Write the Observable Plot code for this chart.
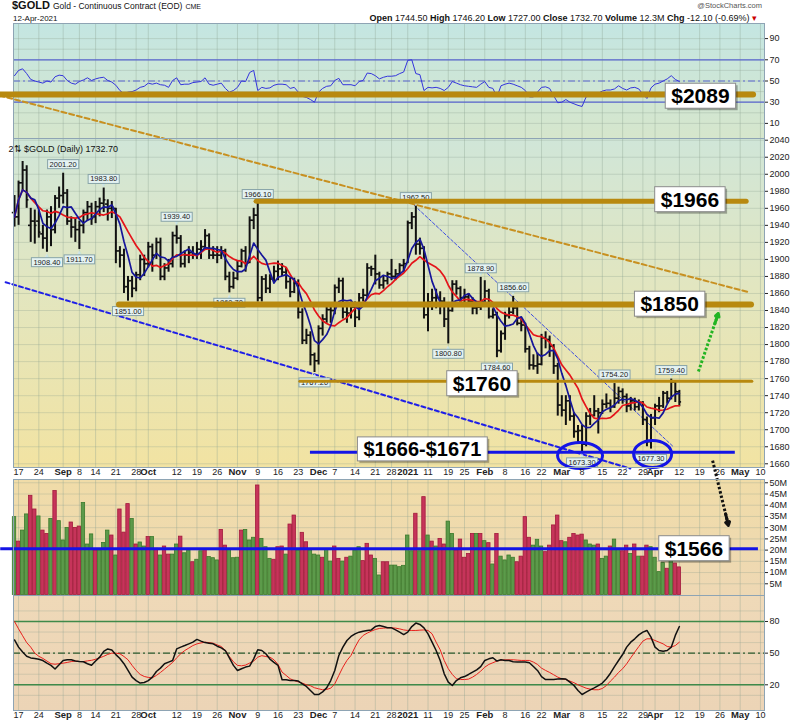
<!DOCTYPE html>
<html><head><meta charset="utf-8">
<script src="https://cdn.jsdelivr.net/npm/d3@7"></script>
<script src="https://cdn.jsdelivr.net/npm/@observablehq/plot@0.6"></script>
<style>
body{margin:0;background:#fff;font-family:Arial,"Liberation Sans",sans-serif;}
#wrap{position:relative;width:800px;height:724px;overflow:hidden;background:#fff;}
.hd{position:absolute;white-space:nowrap;line-height:1;color:#111;}
</style></head><body><div id="wrap">
<div class="hd" style="left:12px;top:0px;font-size:11px;"><b>$GOLD</b> <span style="font-size:8.5px">Gold - Continuous Contract (EOD)</span> <span style="font-size:7px">CME</span></div>
<div class="hd" style="left:13px;top:15px;font-size:8px;">12-Apr-2021</div>
<div class="hd" style="right:43px;top:13.5px;font-size:9px;"><b>Open</b> 1744.50 <b>High</b> 1746.20 <b>Low</b> 1727.00 <b>Close</b> 1732.70 <b>Volume</b> 12.3M <b>Chg</b> -12.10 (-0.69%) <span style="color:#c00">&#9662;</span></div>
<div class="hd" style="right:38px;top:2px;font-size:7.5px;color:#555;">@StockCharts.com</div>
</div>
<script>
// ---------- DATA (first bar = 14-Aug-2020, index -1; trading-day index) ----------
const FIRST = -1;
const open = [1955,1950,1990,2005,1940,1945,1945,1930,1925,1950,
1935,1972,1975,1978,1945,1938,1935,1940,1955,1962,
1950,1962,1966,1965,1960,1960,1910,1905,1868,1875,
1866,1882,1900,1895,1915,1905,1920,1880,1890,1895,
1928,1925,1895,1905,1908,1906,1912,1915,1928,1905,
1905,1905,1910,1880,1868,1878,1892,1910,1896,1946,
1952,1855,1877,1866,1877,1886,1889,1885,1874,1862,
1872,1838,1805,1811,1788,1781,1819,1830,1841,1840,
1867,1875,1838,1837,1844,1832,1855,1858,1890,1889,
1883,1870,1875,1883,1880,1883,1893,1895,1943,1950,
1918,1913,1835,1850,1855,1855,1851,1830,1840,1871,
1866,1855,1856,1851,1843,1844,1850,1863,1833,1835,
1793,1813,1834,1838,1843,1825,1823,1795,1776,1775,
1777,1808,1806,1798,1775,1729,1723,1734,1716,1698,
1699,1683,1716,1717,1722,1720,1730,1731,1727,1737,
1745,1739,1728,1734,1727,1732,1712,1686,1714,1728,
1728,1743,1737,1756,1744.5];
const high = [1975,1992,2015,2010,1960,1958,1958,1940,1958,1962,
1975,1985,2001.2,1982,1950,1948,1945,1958,1968,1966,
1968,1972,1983.8,1970,1968,1960,1915,1912,1880,1880,
1885,1905,1905,1920,1918,1925,1925,1895,1900,1932,
1939.4,1928,1910,1915,1915,1920,1922,1935,1930,1915,
1915,1915,1912,1885,1885,1898,1912,1915,1950,1960,
1966.1,1880,1882,1882,1892,1898,1895,1890,1878,1878,
1876,1842,1818,1815,1790,1822,1835,1845,1848,1870,
1878,1878,1845,1850,1850,1860,1865,1895,1892,1905,
1885,1880,1885,1900,1888,1895,1900,1945,1955,1962.5,
1925,1915,1860,1865,1865,1862,1855,1845,1875,1875,
1868,1865,1860,1855,1850,1878.9,1875,1865,1842,1838,
1816,1838,1845,1856.6,1848,1830,1825,1798,1788,1790,
1812,1815,1810,1800,1778,1740,1740,1740,1720,1705,
1705,1720,1725,1740,1725,1735,1742,1735,1754.2,1750,
1748,1742,1738,1737,1735,1733,1715,1718,1730,1738,
1745,1745,1759.4,1756,1746.2];
const low = [1938,1940,1980,1960,1920,1918,1925,1912,1908.4,1915,
1930,1960,1965,1940,1925,1920,1911.7,1930,1945,1940,
1942,1950,1955,1945,1948,1895,1890,1860,1851,1855,
1862,1875,1880,1890,1885,1900,1875,1875,1885,1890,
1918,1890,1890,1895,1900,1900,1900,1912,1900,1900,
1895,1900,1875,1860.7,1865,1875,1890,1885,1895,1935,
1850,1850,1860,1860,1872,1875,1880,1865,1855,1860,
1830,1800,1800,1775,1767.2,1776,1810,1825,1825,1835,
1860,1830,1825,1830,1820,1828,1850,1855,1880,1870,
1865,1865,1870,1875,1875,1880,1885,1895,1935,1905,
1905,1830,1815,1840,1842,1835,1820,1800.8,1838,1858,
1845,1848,1845,1835,1835,1840,1845,1830,1830,1784.6,
1790,1805,1830,1835,1822,1815,1790,1770,1770,1765,
1775,1795,1785,1765,1716,1715,1705,1710,1690,1685,
1673.3,1680,1705,1715,1695,1718,1725,1720,1725,1730,
1730,1720,1722,1722,1722,1705,1680,1677.3,1705,1720,
1725,1730,1735,1732,1727];
const close = [1950,1990,2005,1970,1945,1940,1932,1925,1950,1935,
1972,1975,1978,1945,1938,1935,1940,1955,1962,1948,
1962,1966,1970,1960,1962,1910,1905,1868,1875,1866,
1882,1900,1895,1915,1905,1920,1880,1890,1895,1928,
1925,1895,1905,1908,1906,1912,1915,1928,1905,1905,
1905,1910,1880,1868,1878,1892,1910,1896,1946,1952,
1855,1877,1866,1877,1886,1889,1885,1874,1862,1872,
1838,1805,1811,1788,1781,1819,1830,1841,1840,1867,
1875,1838,1837,1844,1832,1855,1858,1890,1889,1883,
1870,1875,1883,1880,1883,1893,1895,1943,1950,1918,
1913,1835,1850,1855,1855,1851,1830,1840,1871,1866,
1855,1856,1851,1843,1844,1850,1863,1833,1835,1793,
1813,1834,1838,1843,1825,1823,1795,1776,1775,1777,
1808,1806,1798,1775,1729,1723,1734,1716,1698,1699,
1683,1716,1717,1722,1720,1730,1731,1727,1737,1745,
1739,1728,1734,1727,1732,1712,1686,1714,1728,1728,
1743,1737,1756,1745,1732.7];
// volume in millions and up(1)/down(0) colour flag
const volume = [34.7,23.8,28.7,35.9,44.2,38.1,35.0,28.7,27.2,33.9,
46.3,32.9,24.3,29.9,32.3,29.9,30.5,41.0,22.5,27.0,
19.8,19.8,23.2,28.7,26.5,17.6,38.1,27.8,40.5,33.9,
22.5,23.4,21.6,25.8,25.8,20.6,17.6,21.6,18.0,18.0,
22.5,26.0,18.6,19.8,14.6,15.7,19.5,20.3,16.9,16.4,
15.4,29.0,22.0,20.3,16.4,16.6,28.7,29.0,24.3,25.5,
48.8,25.0,21.3,16.1,15.7,21.3,21.6,18.0,31.4,35.4,
19.8,27.7,23.5,19.8,18.0,17.6,16.6,20.1,14.9,21.6,
16.1,14.9,16.6,17.1,19.8,21.3,15.1,22.8,17.6,16.1,
8.7,14.6,14.6,13.1,13.1,12.4,13.0,26.5,19.5,36.2,
19.5,43.6,26.5,23.8,21.6,25.0,22.5,32.7,27.2,19.8,
24.7,16.6,18.3,27.2,27.2,27.2,24.0,23.1,13.6,27.2,
17.1,15.4,17.6,16.6,14.6,17.1,34.7,25.5,22.0,24.6,
21.6,19.1,22.0,31.0,35.4,24.0,23.5,25.5,27.2,26.5,
26.9,24.3,22.5,22.0,22.5,16.1,17.1,21.6,24.7,20.6,
19.5,22.0,18.3,22.5,17.1,17.1,22.0,21.3,16.6,10.2,
14.2,11.7,15.4,14.0,12.3];
const volUp = [1,0,1,1,0,0,1,0,0,1,
0,1,1,1,0,0,0,1,1,1,
0,1,1,1,0,1,0,0,0,1,
0,1,1,0,1,0,1,0,0,1,
1,0,1,1,0,1,1,0,1,1,
1,0,0,1,1,1,0,1,1,1,
0,1,1,1,0,0,0,1,0,0,
1,0,0,1,1,1,0,1,1,0,
0,1,0,1,1,1,0,0,0,1,
1,0,0,1,1,1,1,1,1,0,
1,0,1,0,1,0,0,1,1,0,
0,0,0,0,1,0,1,0,1,0,
1,1,1,1,0,0,0,0,1,1,
1,0,0,0,0,0,1,0,0,0,
0,1,1,1,0,1,1,0,1,1,
0,0,1,0,1,0,0,1,1,1,
1,0,1,0,0];
const rsi = [55,60,61.5,57,51.5,50,49,48,50,49,
54,55.5,55,50.5,48,47,49.5,51,53,50.5,
52,53,53.5,50.5,49,46,41,38,39.5,40,
41.5,44,45,48,47,48,46.5,46,44,50.5,
53,46.5,47,47,48.5,49,49.5,53,47,46,
47,48,43,39.5,41,44,50,49.5,58,60,
41,44,43,43.5,46,47,47,46.5,43,44,
39.5,35.5,34.5,32.5,30,39.5,43,45,45.5,50.5,
52.5,46.5,46.5,46.5,45.5,49.5,50.5,57.5,57,55,
52,53.5,54.5,54.5,55,57,58.5,69.5,70,57,
56,41,44,43.5,44,43,41,44,49.5,48,
46.5,45.5,45,44.5,44,47,49.5,44,43,35,
45.5,47,48,47,45.5,44,41,35,35,39.5,
44,44.5,43,36,29.5,30,32.5,30,28.5,27,
26,35,37.5,37.5,38.5,40.5,41.5,41.5,42.5,45.5,
43,41.5,43.5,44,42.5,37.5,33.5,43.5,47,48,
50,52,55,51.5,49.5];
const stochK = [62.5,55.7,51,47,45.5,45,44.2,43,40.5,38.4,
35,39,43,43.7,43.7,42.5,42,41.8,40,38.5,
42.5,46.2,51.6,54,53,48.6,45,40,33.6,27.3,
24,21.6,22.2,24,27.3,32.6,35.8,39.9,41.5,43,
54,55.7,57.2,58.8,60.4,63,61.4,60,59.4,58.8,
56.6,55,52.5,45.6,38.4,33.6,35.2,36.8,37.7,44.6,
53.2,52.5,49.4,44.4,41.2,38.4,24.8,24.8,24,24,
23.5,20.9,18.4,14.6,10.8,10.8,13.3,17.1,24,33.6,
47.8,55.7,62,65.8,68.3,69.9,70.8,71.5,72,75.2,
76.2,75.2,74,74,72,69.9,67.6,69.9,75.2,78.5,
77.2,74,68.3,60.4,52.5,43,30.4,22.5,19.3,24,
26.6,27.8,29.8,32,34.2,37.3,43,44.6,45.6,42.5,
43.7,43,43,41.8,41.5,41.5,41.5,40.9,37.3,33.6,
27.8,25,25,25,25.4,25.7,25.4,22.5,19.3,14.6,
10.8,13,15.2,17.1,19.3,21.6,25.7,31,37.3,43,
48.7,55.7,60.4,63.6,67.3,69.9,71.5,65.2,55.7,52.5,
51.9,52.5,55.7,66.8,75.2];
const stochD = [80,73,66.5,60,55.7,50,47,45,42.5,40,
39.5,40,40.5,41.2,42,42.5,42,42,42.7,43.2,
44.2,45.6,47,48.8,50,50,49.4,46.8,43.7,38.4,
33.6,29.8,27.9,27,26.6,28.9,31.7,34.8,38,41.2,
45.6,49.4,52.5,54.8,57.2,58.8,59.7,60.4,60,59.4,
57.8,56.3,52.5,46.8,41.8,38.4,38,38.7,40.6,42.5,
46.2,47.6,46.8,46.2,43.7,39.3,32,28.9,25.7,24,
22.8,21.6,20,19.1,17.2,16.2,15.3,15.6,16.8,20.9,
28.9,36.7,43.1,47.8,55.7,62.6,66.8,69,70.8,72.4,
73.4,73.7,74,74,73.7,73,72,71.5,71.5,71.5,
71.8,72,71.5,68.3,60.4,53.2,43,35.2,29.8,25.7,
25,25,25.4,27.3,29.8,33,36.7,39.3,40.9,42.5,
43.4,43.7,43.7,43.7,43.4,43.1,43.1,43.1,41.5,39.3,
35.8,33.6,31.7,29.5,27.3,25.7,25,23.5,22,20,
18.4,16.8,15.9,15.3,15.3,16.5,19.3,23.5,27.3,31.7,
35.2,39.9,45.6,51,56.3,61.4,63.6,63.6,62,60.4,
58.8,56.3,55.7,57.2,60.4];

// date axis
const tickIdx  = [0,5,11,15,19,24,29,32,39,44,49,54,59,64,69,74,78,83,88,92,96,101,106,110,115,120,125,129,134,139,144,149,154,157,163,168,173,178,183];
const tickText = ["17","24","Sep","8","14","21","28","Oct","12","19","26","Nov","9","16","23","Dec","7","14","21","28","2021","11","19","25","Feb","8","16","22","Mar","8","15","22","29","Apr","12","19","26","May","10"];
const boldTicks = ["Sep","Oct","Nov","Dec","2021","Feb","Mar","Apr","May"];
const priceTicks = [1660,1680,1700,1720,1740,1760,1780,1800,1820,1840,1860,1880,1900,1920,1940,1960,1980,2000,2020,2040];
const rsiTicks = [10,30,50,70,90];
const rsiGrid = [10,20,30,40,50,60,70,80,90];
const volTicks = [5,10,15,20,25,30,35,40,45,50];
const stochTicks = [20,50,80];
const stochGrid = [10,20,30,40,50,60,70,80,90];

// value labels on swing highs/lows
const swingIdx = [11,7,15,21,27,39,52,59,73,98,106,114,118,122,139,147,156,161];
const swingSide = ["h","l","l","h","l","h","l","h","l","h","l","h","l","h","l","h","l","h"];

// annotations (levels drawn by the analyst)
const goldLevel = [2093.7, 1968.4, 1847.1, 1757.0];
const goldFrom  = [-4.4, 58.7, 24.9, 69.5];
const goldTo    = [181.3, 179.6, 180.8, 181.0];
const goldWidth = [6, 5, 6, 3];
const goldText  = ["$2089", "$1966", "$1850", "$1760"];
const goldTextX = [168.2, 165.6, 160.6, 114.3];
const goldTextY = [2091.3, 1969.8, 1847.1, 1753.7];
const supportLevel = 1673.6, supportFrom = 72, supportTo = 176.8;
const supportText = "$1666-$1671", supportTextX = 99.6, supportTextY = 1676.8;
const orangeX = [-4.7, 180.3], orangeY = [2092.6, 1861.3];
const lowerX = [-3.2, 150.9], lowerY = [1873.2, 1654.4];
const thinX = [96.7, 161.6], thinY = [1967.5, 1679.7];
const ellipseX = [138.5, 156.4], ellipseY = [1669.7, 1671.5], ellipseRx = [22.5, 19], ellipseRy = [13, 13.5];
const greenArrow = {x1: 167.7, y1: 1768.4, x2: 172.6, y2: 1836.5};
const blackArrow = {x1: 171.2, y1: 59.9, x2: 175.1, y2: 31.0};
const volLevel = 20.6, volFrom = -4.4, volTo = 182.5, volText = "$1566", volTextX = 166.6, volTextY = 20.5;

// ---------- TABLES ----------
const bars = close.map((c, k) => ({i: FIRST + k, o: open[k], h: high[k], l: low[k], c, v: volume[k], up: volUp[k], r: rsi[k], k: stochK[k], d: stochD[k]}));
const ticks = tickIdx.map((i, k) => ({i, t: tickText[k], b: boldTicks.includes(tickText[k])}));
const swings = swingIdx.map((i, k) => {const b = bars[i - FIRST]; const hi = swingSide[k] === "h"; return {i, y: hi ? b.h : b.l, hi, t: (hi ? b.h : b.l).toFixed(2)};});
const levels = goldLevel.map((p, k) => ({p, a: goldFrom[k], b: goldTo[k], w: goldWidth[k], t: goldText[k], tx: goldTextX[k], ty: goldTextY[k]}));
const pts = (xs, ys) => xs.map((x, k) => ({x, y: ys[k]}));

const FONT = "Arial, 'Liberation Sans', sans-serif";
const GOLD = "#b8890f";
const BLUE = "#1414e6";
const GRID = "#8aa090";
const xDomain = [-1.25, 184];
const common = {width: 800, marginLeft: 13, marginRight: 36, x: {domain: xDomain, axis: null},
  style: {overflow: "visible", background: "none", fontFamily: FONT, fontSize: "9px", color: "#222"}};
const plain = d => String(d);

function ellipseSymbol(rx, ry) {
  const c = 0.5523;
  return {draw(ctx) {
    ctx.moveTo(rx, 0);
    ctx.bezierCurveTo(rx, ry*c, rx*c, ry, 0, ry);
    ctx.bezierCurveTo(-rx*c, ry, -rx, ry*c, -rx, 0);
    ctx.bezierCurveTo(-rx, -ry*c, -rx*c, -ry, 0, -ry);
    ctx.bezierCurveTo(rx*c, -ry, rx, -ry*c, rx, 0);
    ctx.closePath();
  }};
}
const xLabels = (dy) => [
  Plot.text(ticks.filter(d => !d.b), {x: "i", text: "t", frameAnchor: "bottom", dy, fontSize: 9, fill: "#222"}),
  Plot.text(ticks.filter(d => d.b), {x: "i", text: "t", frameAnchor: "bottom", dy, fontSize: 9.5, fontWeight: "bold", fill: "#222"})
];
const bg = () => Plot.frame({fill: "#ededed"});
const border = () => Plot.frame({stroke: "#8ea4b4", strokeWidth: 1});
const vgrid = () => Plot.ruleX(tickIdx, {stroke: GRID, strokeOpacity: 0.35});

// ---------- RSI PANEL ----------
const rsiPlot = Plot.plot({...common, height: 115, marginTop: 0, marginBottom: 0,
  y: {domain: [-4.25, 104.25], axis: "right", ticks: rsiTicks, tickFormat: plain, tickSize: 3, tickPadding: 2, label: null},
  marks: [
    bg(), vgrid(),
    Plot.ruleY(rsiGrid, {stroke: GRID, strokeOpacity: 0.3}),
    Plot.ruleY([70, 30], {stroke: "#5a66d0", strokeWidth: 1.2}),
    Plot.ruleY([50], {stroke: "#5a66d0", strokeWidth: 1.2, strokeDasharray: "7,3,2,3"}),
    Plot.lineY(bars, {x: "i", y: "r", stroke: "#3434dc", strokeWidth: 1}),
    border()
  ]});

// ---------- PRICE PANEL ----------
const pricePlot = Plot.plot({...common, height: 341, marginTop: 0, marginBottom: 12,
  y: {domain: [1655.65, 2042], axis: "right", ticks: priceTicks, tickFormat: plain, tickSize: 3, tickPadding: 2, label: null},
  marks: [
    bg(), vgrid(),
    Plot.ruleY(priceTicks, {stroke: GRID, strokeOpacity: 0.3}),
    Plot.line(pts(lowerX, lowerY), {x: "x", y: "y", stroke: "#1e1ee8", strokeWidth: 2, strokeDasharray: "4,3"}),
    Plot.line(pts(thinX, thinY), {x: "x", y: "y", stroke: "#3c4ce0", strokeWidth: 1, strokeDasharray: "3,2"}),
    Plot.line(pts(orangeX, orangeY), {x: "x", y: "y", stroke: "#c89020", strokeWidth: 2, strokeDasharray: "5,3"}),
    Plot.ruleX(bars, {x: "i", y1: "l", y2: "h", stroke: "#111", strokeWidth: 2}),
    Plot.ruleY(bars, {y: "o", x1: d => d.i - 0.55, x2: "i", stroke: "#111", strokeWidth: 1.6}),
    Plot.ruleY(bars, {y: "c", x1: "i", x2: d => d.i + 0.55, stroke: "#111", strokeWidth: 1.6}),
    Plot.lineY(bars, Plot.windowY({k: 10, anchor: "end"}, {x: "i", y: "c", stroke: "#e4141a", strokeWidth: 1.7})),
    Plot.lineY(bars, Plot.windowY({k: 5, anchor: "end"}, {x: "i", y: "c", stroke: "#16169a", strokeWidth: 1.7})),
    Plot.text(swings.filter(d => d.hi), {x: "i", y: "y", text: () => "\u25BC", dy: -3, fontSize: 6, fill: "#c9e4e6"}),
    Plot.text(swings.filter(d => !d.hi), {x: "i", y: "y", text: () => "\u25B2", dy: 3, fontSize: 6, fill: "#c9e4e6"}),
    Plot.text(swings.filter(d => d.hi), {x: "i", y: "y", text: "t", dy: -9, fontSize: 7.5, fill: "#222"}),
    Plot.text(swings.filter(d => !d.hi), {x: "i", y: "y", text: "t", dy: 10, fontSize: 7.5, fill: "#222"}),
    Plot.text(["2\u21C5 $GOLD (Daily) 1732.70"], {frameAnchor: "top-left", dx: -5, dy: 7, textAnchor: "start", fontSize: 9, fill: "#111"}),
    Plot.ruleY(levels, {y: "p", x1: "a", x2: "b", stroke: GOLD, strokeWidth: "w", strokeLinecap: "round"}),
    Plot.ruleY([supportLevel], {x1: supportFrom, x2: supportTo, stroke: BLUE, strokeWidth: 3}),
    Plot.dot([0], {x: ellipseX[0], y: ellipseY[0], symbol: ellipseSymbol(ellipseRx[0], ellipseRy[0]), stroke: BLUE, strokeWidth: 3, fill: "none"}),
    Plot.dot([0], {x: ellipseX[1], y: ellipseY[1], symbol: ellipseSymbol(ellipseRx[1], ellipseRy[1]), stroke: BLUE, strokeWidth: 3, fill: "none"}),
    Plot.link([greenArrow], {x1: "x1", y1: "y1", x2: "x2", y2: "y2", stroke: "#22b422", strokeWidth: 3, strokeDasharray: "2.5,2"}),
    Plot.arrow([greenArrow], {x1: d => d.x2 - (d.x2 - d.x1) * 0.18, y1: d => d.y2 - (d.y2 - d.y1) * 0.18, x2: "x2", y2: "y2", stroke: "#22b422", strokeWidth: 3, headLength: 9}),
    Plot.text(levels, {x: "tx", y: "ty", text: "t", fontSize: 21, fontWeight: "bold", fill: "#000"}),
    Plot.text([supportText], {x: supportTextX, y: supportTextY, text: d => d, fontSize: 20, fontWeight: "bold", fill: "#000"}),
    border(),
    ...xLabels(7)
  ]});

// ---------- VOLUME PANEL ----------
const volPlot = Plot.plot({...common, height: 116, marginTop: 0, marginBottom: 0,
  y: {domain: [-0.22, 51.46], axis: "right", ticks: volTicks, tickFormat: d => d + "M", tickSize: 3, tickPadding: 2, label: null},
  marks: [
    bg(), vgrid(),
    Plot.ruleY(volTicks, {stroke: GRID, strokeOpacity: 0.3}),
    Plot.rectY(bars, {x1: d => d.i - 0.42, x2: d => d.i + 0.42, y: "v",
      fill: d => d.up ? "#5c9a4a" : "#c6345a", stroke: d => d.up ? "#3b7a2c" : "#a21a3c", strokeWidth: 0.8}),
    Plot.ruleY([volLevel], {x1: volFrom, x2: volTo, stroke: BLUE, strokeWidth: 3}),
    Plot.link([blackArrow], {x1: "x1", y1: "y1", x2: "x2", y2: "y2", stroke: "#111", strokeWidth: 3, strokeDasharray: "2.5,2"}),
    Plot.arrow([blackArrow], {x1: d => d.x2 - (d.x2 - d.x1) * 0.18, y1: d => d.y2 - (d.y2 - d.y1) * 0.18, x2: "x2", y2: "y2", stroke: "#111", strokeWidth: 3, headLength: 9}),
    Plot.text([volText], {x: volTextX, y: volTextY, text: d => d, fontSize: 21, fontWeight: "bold", fill: "#000"}),
    border()
  ]});

// ---------- STOCHASTIC PANEL ----------
const stoPlot = Plot.plot({...common, height: 129, marginTop: 0, marginBottom: 14,
  y: {domain: [-4.36, 104.64], axis: "right", ticks: stochTicks, tickFormat: plain, tickSize: 3, tickPadding: 2, label: null},
  marks: [
    bg(), vgrid(),
    Plot.ruleY(stochGrid, {stroke: GRID, strokeOpacity: 0.3}),
    Plot.ruleY([80, 20], {stroke: "#3f8a4a", strokeWidth: 1.6}),
    Plot.ruleY([50], {stroke: "#2c5a2c", strokeWidth: 1.2, strokeDasharray: "7,3,2,3"}),
    Plot.lineY(bars, {x: "i", y: "d", stroke: "#e8201c", strokeWidth: 1}),
    Plot.lineY(bars, {x: "i", y: "k", stroke: "#111", strokeWidth: 1.5}),
    border(),
    ...xLabels(7)
  ]});

// ---------- ASSEMBLY ----------
const wrap = document.getElementById("wrap");
const NS = "http://www.w3.org/2000/svg";
function place(svg, top, gradId, stops) {
  svg.style.position = "absolute"; svg.style.left = "0px"; svg.style.top = top + "px";
  wrap.appendChild(svg);
  const defs = document.createElementNS(NS, "defs");
  const g = document.createElementNS(NS, "linearGradient");
  g.setAttribute("id", gradId); g.setAttribute("x1", "0"); g.setAttribute("y1", "0"); g.setAttribute("x2", "0"); g.setAttribute("y2", "1");
  stops.forEach(([o, c]) => {const s = document.createElementNS(NS, "stop"); s.setAttribute("offset", o); s.setAttribute("stop-color", c); g.appendChild(s);});
  defs.appendChild(g); svg.insertBefore(defs, svg.firstChild);
  const bgRect = Array.from(svg.querySelectorAll("rect")).find(r => (r.getAttribute("fill") || "").toLowerCase() === "#ededed");
  if (bgRect) bgRect.setAttribute("fill", `url(#${gradId})`);
  return svg;
}
function boxAround(t, padX, padY, fill, stroke, shadow) {
  const b = t.getBBox();
  if (!b || !b.width) return;
  const tr = t.getAttribute("transform") || "";
  const mk = (dx, dy, f, s) => {
    const r = document.createElementNS(NS, "rect");
    r.setAttribute("x", b.x - padX + dx); r.setAttribute("y", b.y - padY + dy);
    r.setAttribute("width", b.width + 2 * padX); r.setAttribute("height", b.height + 2 * padY);
    r.setAttribute("fill", f); r.setAttribute("stroke", s); r.setAttribute("stroke-width", "1");
    if (tr) r.setAttribute("transform", tr);
    t.parentNode.insertBefore(r, t);
  };
  if (shadow) mk(2, 2, "rgba(0,0,0,0.3)", "none");
  mk(0, 0, fill, stroke);
}
place(rsiPlot, 23, "gRsi", [["0", "#c4e6e2"], ["1", "#d6e6cc"]]);
place(pricePlot, 138, "gPrice", [["0", "#d0e6d8"], ["0.45", "#e2e6c0"], ["1", "#f2e3a2"]]);
place(volPlot, 479, "gVol", [["0", "#f0dca8"], ["1", "#eed8b4"]]);
place(stoPlot, 595, "gSto", [["0", "#efd9b8"], ["1", "#ecd4b6"]]);
const bigSet = new Set([...goldText, supportText, volText]);
const smallSet = new Set(swings.map(d => d.t));
for (const svg of [pricePlot, volPlot]) {
  svg.querySelectorAll("text").forEach(t => {
    const s = t.textContent;
    if (bigSet.has(s)) boxAround(t, 6, 1, "#fff", "#8a8a8a", true);
    else if (smallSet.has(s)) boxAround(t, 2, 0, "#e4f2f2", "#88a4a8", false);
  });
}
</script></body></html>
